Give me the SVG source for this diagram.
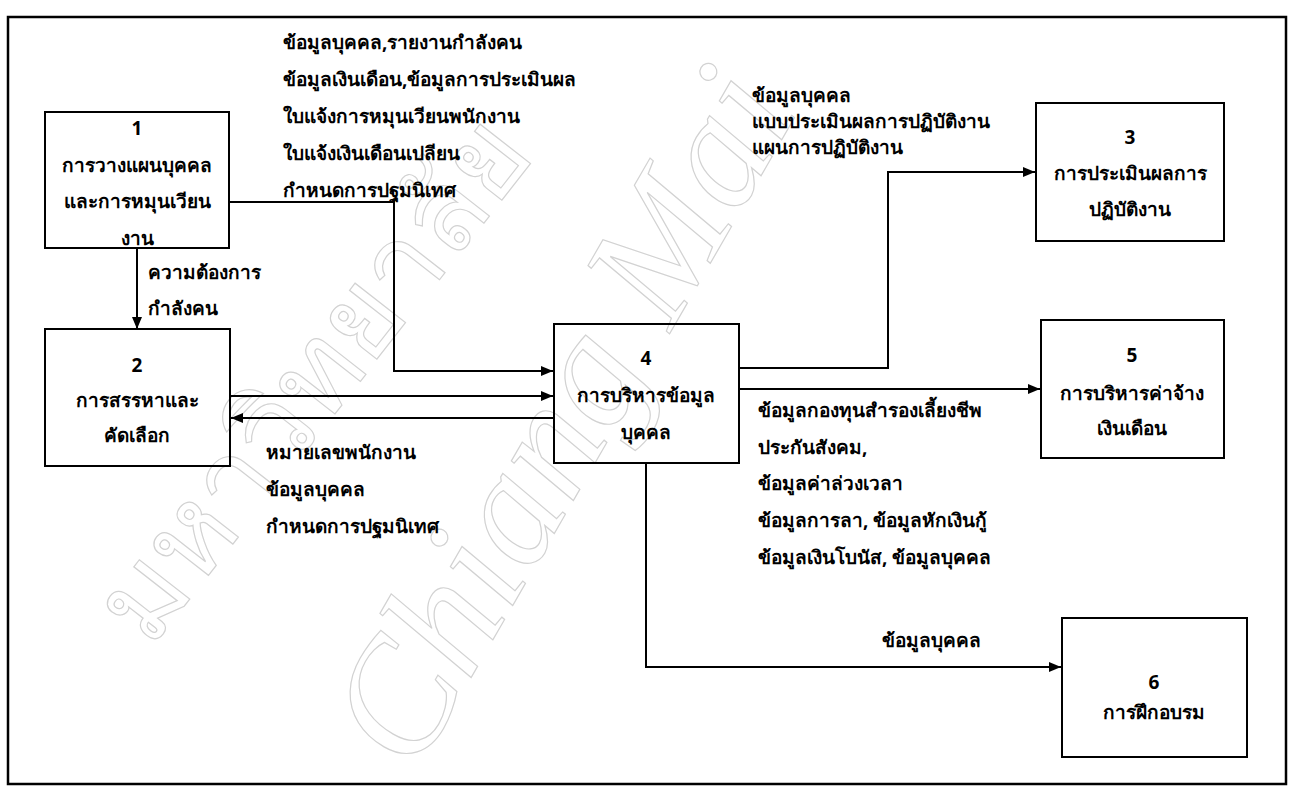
<svg xmlns="http://www.w3.org/2000/svg" width="1290" height="789" viewBox="0 0 1290 789">
  <style>
    .box { fill: none; stroke: #000000; stroke-width: 2; }
    .frame { fill: none; stroke: #000000; stroke-width: 2.5; }
    .flow { fill: none; stroke: #000000; stroke-width: 2; }
    text { font-family: "Noto Sans", "DejaVu Sans", sans-serif; font-size: 19px; font-weight: bold; fill: #000000; }
    .c { text-anchor: middle; }
    .wm { font-family: "Liberation Serif", serif; font-size: 115px; font-weight: normal; fill: none; stroke: #d2d2d2; stroke-width: 1.2; }
    .wm-en { font-style: italic; font-size: 160px; }
  </style>
  <defs>
    <marker id="arrow" viewBox="0 0 12 10" refX="12" refY="5" markerWidth="12" markerHeight="10" markerUnits="userSpaceOnUse" orient="auto">
      <path d="M0,0 L12,5 L0,10 Z" fill="#000000"/>
    </marker>
  </defs>

  <rect x="0" y="0" width="1290" height="789" fill="#ffffff"/>

  <!-- faint university watermark -->
  <g id="watermark">
    <text class="wm" transform="translate(150,650) rotate(-52)">มหาวิทยาลัย</text>
    <text class="wm wm-en" transform="translate(415,775) rotate(-60)">Chiang Mai</text>
  </g>

  <rect class="frame" x="8" y="17" width="1278" height="767"/>

  <!-- data flows -->
  <g id="connectors">
    <path class="flow" d="M137,248 V329" marker-end="url(#arrow)"/>
    <path class="flow" d="M229,202 H394 V371 H553" marker-end="url(#arrow)"/>
    <path class="flow" d="M230,396 H553" marker-end="url(#arrow)"/>
    <path class="flow" d="M554,418 H231" marker-end="url(#arrow)"/>
    <path class="flow" d="M739,368 H888 V172 H1035" marker-end="url(#arrow)"/>
    <path class="flow" d="M739,389 H1040" marker-end="url(#arrow)"/>
    <path class="flow" d="M646,463 V667 H1061" marker-end="url(#arrow)"/>
  </g>

  <g id="flow-labels">
    <text x="283" y="49">ข้อมูลบุคคล,รายงานกำลังคน</text>
    <text x="283" y="86">ข้อมูลเงินเดือน,ข้อมูลการประเมินผล</text>
    <text x="283" y="123">ใบแจ้งการหมุนเวียนพนักงาน</text>
    <text x="283" y="160">ใบแจ้งเงินเดือนเปลียน</text>
    <text x="283" y="197">กำหนดการปฐมนิเทศ</text>

    <text x="148" y="279">ความต้องการ</text>
    <text x="148" y="315">กำลังคน</text>

    <text x="752" y="102">ข้อมูลบุคคล</text>
    <text x="752" y="128">แบบประเมินผลการปฏิบัติงาน</text>
    <text x="752" y="154">แผนการปฏิบัติงาน</text>

    <text x="266" y="459">หมายเลขพนักงาน</text>
    <text x="266" y="496">ข้อมูลบุคคล</text>
    <text x="266" y="533">กำหนดการปฐมนิเทศ</text>

    <text x="758" y="417">ข้อมูลกองทุนสำรองเลี้ยงชีพ</text>
    <text x="758" y="454">ประกันสังคม,</text>
    <text x="758" y="490">ข้อมูลค่าล่วงเวลา</text>
    <text x="758" y="527">ข้อมูลการลา, ข้อมูลหักเงินกู้</text>
    <text x="758" y="564">ข้อมูลเงินโบนัส, ข้อมูลบุคคล</text>

    <text x="882" y="647">ข้อมูลบุคคล</text>
  </g>

  <g id="p1">
    <rect class="box" x="45" y="112" width="184" height="136"/>
    <text class="c" x="137" y="135">1</text>
    <text class="c" x="137" y="172">การวางแผนบุคคล</text>
    <text class="c" x="137" y="208">และการหมุนเวียน</text>
    <text class="c" x="137" y="245">งาน</text>
  </g>

  <g id="p2">
    <rect class="box" x="45" y="329" width="185" height="137"/>
    <text class="c" x="137" y="372">2</text>
    <text class="c" x="137" y="407">การสรรหาและ</text>
    <text class="c" x="137" y="442">คัดเลือก</text>
  </g>

  <g id="p3">
    <rect class="box" x="1036" y="103" width="188" height="138"/>
    <text class="c" x="1130" y="144">3</text>
    <text class="c" x="1130" y="180">การประเมินผลการ</text>
    <text class="c" x="1130" y="216">ปฏิบัติงาน</text>
  </g>

  <g id="p4">
    <rect class="box" x="554" y="324" width="185" height="139"/>
    <text class="c" x="646" y="365">4</text>
    <text class="c" x="646" y="402">การบริหารข้อมูล</text>
    <text class="c" x="646" y="439">บุคคล</text>
  </g>

  <g id="p5">
    <rect class="box" x="1041" y="320" width="183" height="138"/>
    <text class="c" x="1132" y="362">5</text>
    <text class="c" x="1132" y="400">การบริหารค่าจ้าง</text>
    <text class="c" x="1132" y="435">เงินเดือน</text>
  </g>

  <g id="p6">
    <rect class="box" x="1062" y="618" width="185" height="139"/>
    <text class="c" x="1154" y="689">6</text>
    <text class="c" x="1154" y="719">การฝึกอบรม</text>
  </g>
</svg>
